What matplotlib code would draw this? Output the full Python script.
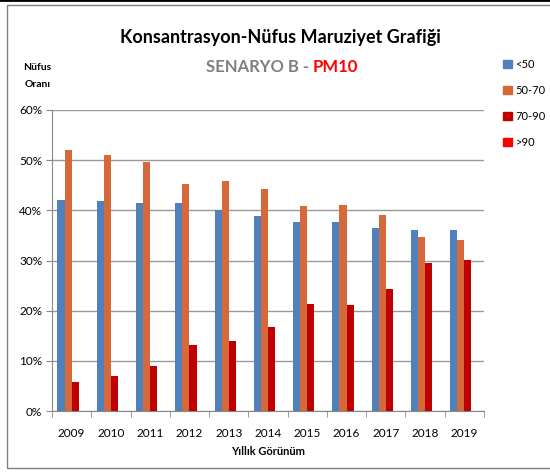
import numpy as np
import matplotlib
matplotlib.use('Agg')
import matplotlib.pyplot as plt
from matplotlib.patches import Rectangle, Patch
from matplotlib.ticker import PercentFormatter, MultipleLocator

plt.rcParams['font.family'] = ['Lato', 'DejaVu Sans']

# exposure shares per concentration class (%)
years = ['2009', '2010', '2011', '2012', '2013', '2014', '2015', '2016', '2017', '2018', '2019']
lt50 = [42.1, 41.9, 41.5, 41.5, 40.1, 38.9, 37.7, 37.7, 36.5, 36.1, 36.1]
r50_70 = [52.1, 51.1, 49.7, 45.3, 45.9, 44.3, 40.9, 41.1, 39.1, 34.7, 34.1]
r70_90 = [5.8, 7.0, 9.0, 13.2, 14.0, 16.8, 21.4, 21.2, 24.4, 29.5, 30.1]
gt90 = [0, 0, 0, 0, 0, 0, 0, 0, 0, 0, 0]

labels = ['<50', '50-70', '70-90', '>90']
colors = ['#4F81BD', '#D6693A', '#C00000', '#FF0000']
series = [lt50, r50_70, r70_90, gt90]

fig = plt.figure(figsize=(5.5, 4.72), dpi=100)
ax = fig.add_axes([0.0945, 0.129, 0.7855, 0.638])

x = np.arange(len(years))
w = 0.18
for i, (vals, c) in enumerate(zip(series, colors)):
    ax.bar(x + (i - 1.5) * w, vals, w, color=c, label=labels[i], zorder=3)

ax.set_xlim(-0.5, len(years) - 0.5)
ax.set_ylim(0, 60)
ax.yaxis.set_major_locator(MultipleLocator(10))
ax.yaxis.set_major_formatter(PercentFormatter(decimals=0))
ax.set_xticks(x)
ax.set_xticklabels(years)
ax.set_xticks(np.arange(len(years) + 1) - 0.5, minor=True)
ax.tick_params(axis='x', which='major', length=0, pad=12, labelsize=8.5)
ax.tick_params(axis='x', which='minor', length=4, color='#888888')
ax.tick_params(axis='y', length=4, color='#888888', labelsize=8.5, pad=3)
ax.grid(axis='y', color='#999999', linewidth=1, zorder=0)
for s in ['top', 'right']:
    ax.spines[s].set_visible(False)
for s in ['left', 'bottom']:
    ax.spines[s].set_color('#888888')
ax.set_xlabel('Yıllık Görünüm', fontsize=8, fontweight='bold', labelpad=5)

# titles
fig.text(0.509, 0.92, 'Konsantrasyon-Nüfus Maruziyet Grafiği', ha='center', va='center',
         fontsize=13, fontweight='bold')
fig.text(0.569, 0.858, 'SENARYO B - ', ha='right', va='center', fontsize=12,
         fontweight='bold', color='#7F7F7F')
fig.text(0.569, 0.858, 'PM10', ha='left', va='center', fontsize=12,
         fontweight='bold', color='#FF0000')
fig.text(0.068, 0.856, 'Nüfus', ha='center', va='center', fontsize=7.5, fontweight='bold')
fig.text(0.068, 0.822, 'Oranı', ha='center', va='center', fontsize=7.5, fontweight='bold')

handles = [Patch(color=c) for c in colors]
fig.legend(handles, labels, loc='upper left', bbox_to_anchor=(0.897, 0.897),
           frameon=False, fontsize=8, handlelength=0.8, handleheight=0.8,
           handletextpad=0.3, labelspacing=1.35)

# chart frame
fig.patches.append(Rectangle((7 / 550, 0.0085), 1.0, 0.98, transform=fig.transFigure,
                             fill=False, edgecolor='#808080', linewidth=1))
fig.lines.append(plt.Line2D([0, 1], [0.999, 0.999], transform=fig.transFigure,
                            color='black', linewidth=2))

fig.savefig('out.png', dpi=100)
